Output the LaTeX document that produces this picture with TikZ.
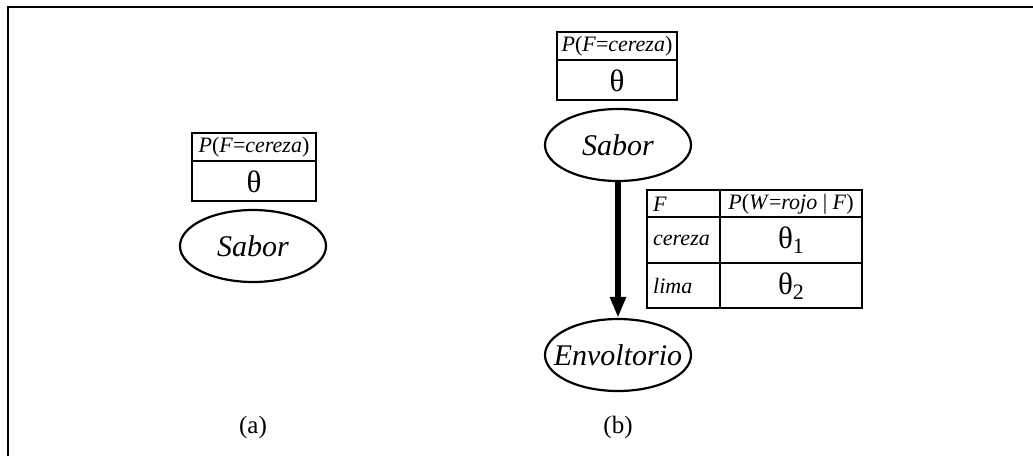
\documentclass[tikz,border=0pt]{standalone}
\usepackage{fontspec}
\setmainfont{Liberation Serif}
\usetikzlibrary{
  arrows.meta,      % Triangle 箭头
  calc,             % 坐标计算
  positioning,      % 节点相对定位
  shapes.geometric  % 椭圆节点
}

\tikzset{
  varnode/.style={ellipse, draw, line width=2.2pt, minimum width=146pt,
    minimum height=72pt, inner sep=0pt, font=\fontsize{30}{30}\selectfont\itshape},
  cptline/.style={line width=1.3pt},
  hdrtext/.style={inner sep=0pt, font=\fontsize{22}{22}\selectfont},
  valtext/.style={inner sep=0pt, font=\fontsize{31}{31}\selectfont},
  sublabel/.style={inner sep=0pt, font=\fontsize{25}{25}\selectfont}
}

\begin{document}
\begin{tikzpicture}[x=1pt, y=-1pt, >={Triangle[length=21pt, width=15pt]}]

  \useasboundingbox (0,0) rectangle (1033,456);

  % =========== 外框 (只有上边与左边) ===========
  \coordinate (F1) at (8,456);
  \coordinate (F2) at (8,7);
  \coordinate (F3) at (1033,7);
  \draw[line width=2pt] (F1) -- (F2) -- (F3);

  % =========== (a) 单节点 ===========
  % 1. 条件概率表
  \draw[cptline] (192,133) rectangle (316,201);
  \draw[cptline] (192,161) -- (316,161);
  \node[hdrtext] (priorA) at (254,147) {\textit{P}(\textit{F}=\textit{cereza})};
  \node[valtext] (thetaA) at (254,182) {θ};
  % 2. 变量节点
  \node[varnode] (saborA) at (253,246) {\makebox[0pt]{Sabor}};
  \node[sublabel] (labelA) at (253,427) {(a)};

  % =========== (b) 两个节点 ===========
  % 1. 先验表
  \draw[cptline] (557,32) rectangle (677,100);
  \draw[cptline] (557,60) -- (677,60);
  \node[hdrtext] (priorB) at (617,46) {\textit{P}(\textit{F}=\textit{cereza})};
  \node[valtext] (thetaB) at (617,81) {θ};
  % 2. 变量节点与箭头
  \node[varnode] (saborB) at (618,145) {\makebox[0pt]{Sabor}};
  \node[varnode] (envoltorio) at (618,355) {\makebox[0pt]{Envoltorio}};
  \draw[line width=5.5pt, ->] (saborB) -- (envoltorio);
  \node[sublabel] (labelB) at (618,427) {(b)};

  % 3. 条件概率表 P(W | F)
  \draw[cptline] (647,190) rectangle (862,308);
  \draw[cptline] (647,217) -- (862,217);
  \draw[cptline] (647,263) -- (862,263);
  \draw[cptline] (720,190) -- (720,308);
  \node[hdrtext, anchor=west] (colF) at (653,204) {\textit{F}};
  \node[hdrtext] (colP) at (791,204) {\textit{P}(\textit{W}=\textit{rojo} | \textit{F})};
  \node[hdrtext, anchor=west] (rowCereza) at (653,240) {\textit{cereza}};
  \node[hdrtext, anchor=west] (rowLima) at (653,286) {\textit{lima}};
  \node[valtext] (thetaOne) at (791,240) {θ\raisebox{-0.35ex}{\fontsize{22}{22}\selectfont 1}};
  \node[valtext] (thetaTwo) at (791,286) {θ\raisebox{-0.35ex}{\fontsize{22}{22}\selectfont 2}};

\end{tikzpicture}
\end{document}
